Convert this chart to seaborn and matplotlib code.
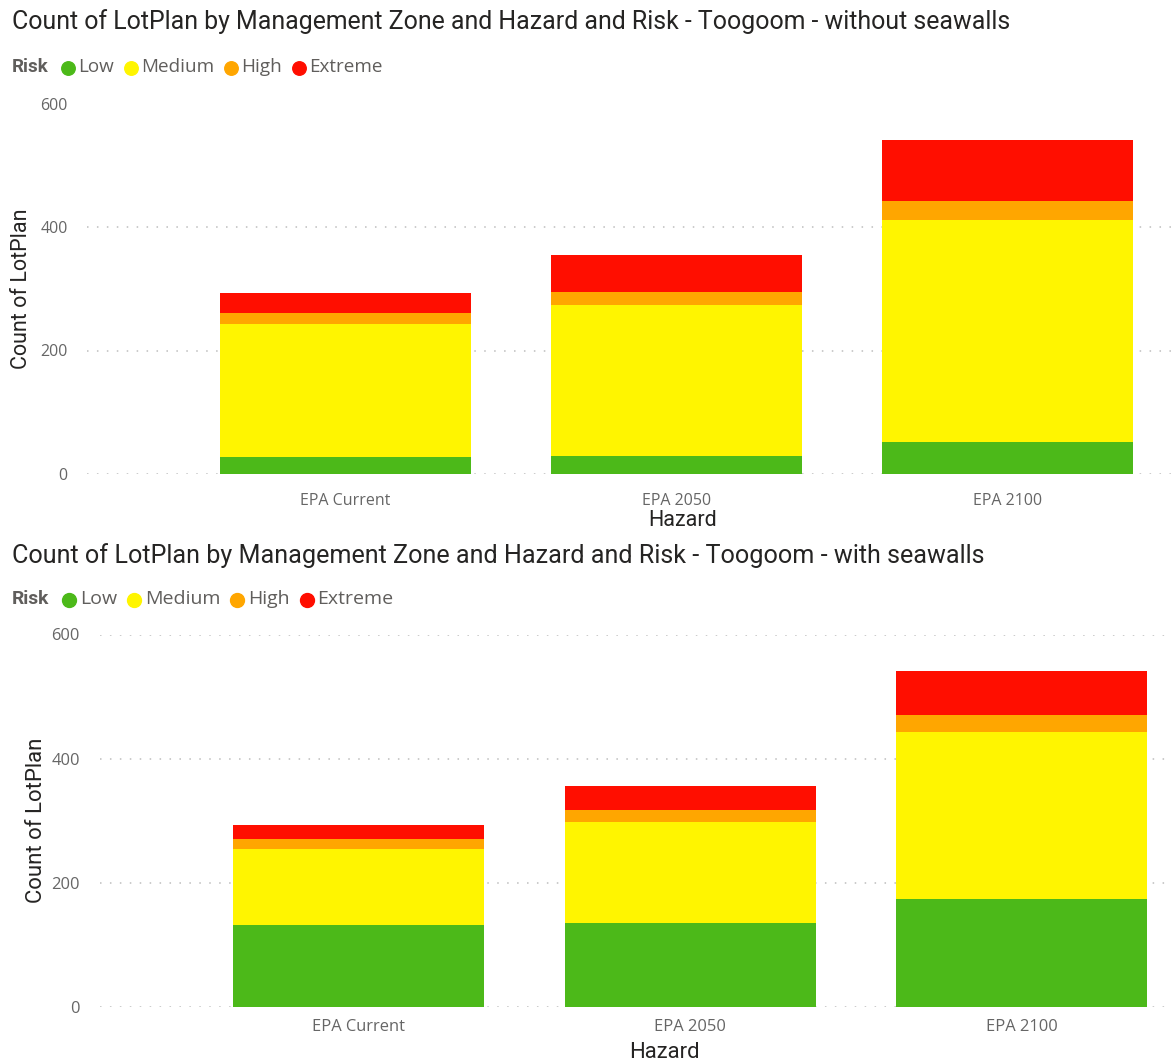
import matplotlib
matplotlib.use("Agg")
import matplotlib.pyplot as plt
from matplotlib.lines import Line2D
import numpy as np
import pandas as pd
import seaborn as sns

# Hazard scenarios and risk levels
hazards = ["EPA Current", "EPA 2050", "EPA 2100"]
risks = ["Low", "Medium", "High", "Extreme"]
risk_colors = ["#4CB919", "#FFF500", "#FFA600", "#FF0E00"]

# Count of LotPlan per risk level - without seawalls
without_low = [28, 29, 52]
without_medium = [215, 245, 360]
without_high = [18, 21, 30]
without_extreme = [32, 60, 99]

# Count of LotPlan per risk level - with seawalls
with_low = [131, 135, 173]
with_medium = [123, 162, 270]
with_high = [17, 20, 28]
with_extreme = [22, 38, 70]

yticks = [0, 200, 400, 600]

W, H, DPI = 1173, 1064, 100

sns.set_theme(style="white")
plt.rcParams["font.family"] = ["Roboto", "DejaVu Sans"]

fig = plt.figure(figsize=(W / DPI, H / DPI), dpi=DPI)
renderer = fig.canvas.get_renderer()


def fx(px):
    return px / W


def fy(py):
    return 1 - py / H


def draw_legend(x0, y, scale):
    """Inline Power BI style legend: bold title followed by dot + label pairs."""
    t = fig.text(fx(x0), fy(y), "Risk", fontsize=13.5 * scale, color="#605E5C",
                 fontweight="bold", ha="left", va="center")
    x = x0 + t.get_window_extent(renderer).width + 13 * scale
    for name, color in zip(risks, risk_colors):
        d = 13.5 * scale
        fig.add_artist(Line2D([fx(x + d / 2)], [fy(y + 1)], ls="none", marker="o",
                              markersize=d * 72 / DPI, markerfacecolor=color,
                              markeredgecolor=color, transform=fig.transFigure))
        lab = fig.text(fx(x + d + 3.5 * scale), fy(y), name, fontsize=13.6 * scale,
                       color="#605E5C", family=["Open Sans", "DejaVu Sans"],
                       ha="left", va="center")
        x = x + d + 3.5 * scale + lab.get_window_extent(renderer).width + 10 * scale


def stacked_panel(rect, low, medium, high, extreme, title, title_y, legend_y,
                  xlim, ylabel_x, xlabel_xy, tick_y, scale, title_scale):
    ax = fig.add_axes(rect)
    df = pd.DataFrame({
        "Hazard": hazards * 4,
        "Risk": np.repeat(risks, len(hazards)),
        "Count": low + medium + high + extreme,
    })
    wide = df.pivot(index="Hazard", columns="Risk", values="Count").loc[hazards, risks]
    tops = wide.cumsum(axis=1)
    # draw from the top segment down so lower segments overlay upper ones
    for risk, color in zip(reversed(risks), reversed(risk_colors)):
        seg = pd.DataFrame({"Hazard": hazards, "Top": tops[risk].values})
        sns.barplot(data=seg, x="Hazard", y="Top", order=hazards, color=color,
                    width=0.757, saturation=1, ax=ax, linewidth=0, zorder=3)
    ax.set_ylim(0, 600)
    ax.set_xlim(*xlim)
    ax.set_yticks(yticks)
    ax.set_yticklabels([str(t) for t in yticks])
    for t in yticks:
        ax.axhline(t, color="#BDBDBD", lw=1.1, ls=(0, (1, 5.5)), zorder=1)
    for s in ax.spines.values():
        s.set_visible(False)
    ax.tick_params(axis="both", length=0, labelsize=11.5 * scale, colors="#666666")
    for lab in ax.get_xticklabels() + ax.get_yticklabels():
        lab.set_fontfamily(["Open Sans", "DejaVu Sans"])
    ax.tick_params(axis="y", pad=14 * scale)
    ax.tick_params(axis="x", pad=tick_y)

    x0, y0 = rect[0] * W, (1 - rect[1] - rect[3]) * H
    w, h = rect[2] * W, rect[3] * H
    ax.set_xlabel("Hazard", fontsize=15.5 * scale, color="#252423")
    ax.xaxis.label.set_va("center")
    ax.xaxis.set_label_coords((xlabel_xy[0] - x0) / w, 1 - (xlabel_xy[1] - y0) / h)
    ax.set_ylabel("Count of LotPlan", fontsize=15.5 * scale, color="#252423")
    ax.yaxis.label.set_va("center")
    ax.yaxis.set_label_coords((ylabel_x - x0) / w, 0.5)

    fig.text(fx(12), fy(title_y), title, fontsize=17.9 * title_scale, color="#252423",
             ha="left", va="center")
    draw_legend(11.5, legend_y, scale)
    return ax


top_rect = [fx(87), fy(474), fx(1172) - fx(87), fy(103.5) - fy(474)]
bot_rect = [fx(100), fy(1006.7), fx(1168) - fx(100), fy(634.5) - fy(1006.7)]

stacked_panel(top_rect, without_low, without_medium, without_high, without_extreme,
              "Count of LotPlan by Management Zone and Hazard and Risk - Toogoom - without seawalls",
              22, 67, (-0.780, 2.497), 22, (683, 521), 14, 1.0, 1.0)
stacked_panel(bot_rect, with_low, with_medium, with_high, with_extreme,
              "Count of LotPlan by Management Zone and Hazard and Risk - Toogoom - with seawalls",
              556, 599, (-0.781, 2.441), 37, (664, 1052), 9, 1.03, 1.013)

fig.savefig("out.png", dpi=DPI)
